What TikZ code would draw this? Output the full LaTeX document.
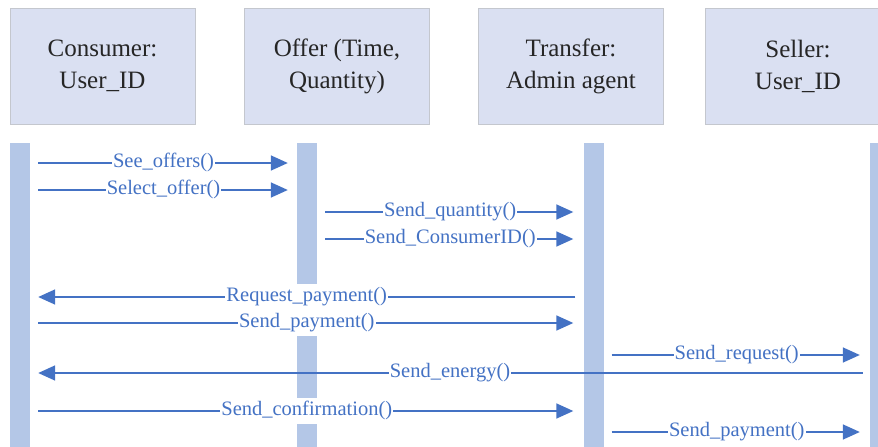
\documentclass[tikz,border=0pt]{standalone}
\usepackage{fontspec}
\setmainfont{Liberation Serif}
\usetikzlibrary{arrows.meta}

\definecolor{headfill}{RGB}{218,224,242}
\definecolor{headline}{RGB}{196,199,206}
\definecolor{barfill}{RGB}{180,199,231}
\definecolor{msgblue}{RGB}{68,114,196}
\definecolor{headtext}{RGB}{38,38,38}

\tikzset{
  head/.style={draw=headline, line width=0.8pt, fill=headfill, minimum width=185pt,
    minimum height=116pt, align=center, text=headtext,
    font=\fontsize{25}{32}\selectfont, inner sep=0pt},
  lifebar/.style={fill=barfill, draw=none, minimum width=20pt, minimum height=310pt,
    anchor=north, inner sep=0pt},
  msg/.style={draw=msgblue, line width=1.6pt, -{Triangle[length=17pt,width=15pt]}},
  lbl/.style={fill=white, text=msgblue, inner sep=0pt, inner xsep=1pt,
    text height=17pt, text depth=9pt, font=\fontsize{20.5}{22}\selectfont, midway}
}

\begin{document}
\begin{tikzpicture}[x=1pt, y=-1pt]
  \useasboundingbox (0,0) rectangle (878,447);

  % participant headers
  \node[head] (h1) at (102.5,66) {Consumer:\\User\_ID};
  \node[head] (h2) at (337,66) {Offer (Time,\\Quantity)};
  \node[head] (h3) at (571,66) {Transfer:\\Admin agent};
  \node[head] (h4) at (798,66) {Seller:\\User\_ID};

  % activation bars
  \node[lifebar] (b1) at (20,143) {};
  \node[lifebar] (b2) at (307,143) {};
  \node[lifebar] (b3) at (593.5,143) {};
  \node[lifebar] (b4) at (880,143) {};

  % messages
  \draw[msg, shorten <=8pt, shorten >=9pt] (b1.east |- 0,163) -- node[lbl] {See\_offers()} (b2.west |- 0,163);
  \draw[msg, shorten <=8pt, shorten >=9pt] (b1.east |- 0,190) -- node[lbl] {Select\_offer()} (b2.west |- 0,190);
  \draw[msg, shorten <=8pt, shorten >=10pt] (b2.east |- 0,212) -- node[lbl] {Send\_quantity()} (b3.west |- 0,212);
  \draw[msg, shorten <=8pt, shorten >=10pt] (b2.east |- 0,239) -- node[lbl] {Send\_ConsumerID()} (b3.west |- 0,239);
  \draw[msg, shorten <=8pt, shorten >=8pt] (b3.west |- 0,297) -- node[lbl] {Request\_payment()} (b1.east |- 0,297);
  \draw[msg, shorten <=8pt, shorten >=10pt] (b1.east |- 0,323) -- node[lbl] {Send\_payment()} (b3.west |- 0,323);
  \draw[msg, shorten <=8pt, shorten >=10pt] (b3.east |- 0,355) -- node[lbl] {Send\_request()} (b4.west |- 0,355);
  \draw[msg, shorten <=7pt, shorten >=8pt] (b4.west |- 0,373) -- node[lbl] {Send\_energy()} (b1.east |- 0,373);
  \draw[msg, shorten <=8pt, shorten >=10pt] (b1.east |- 0,411) -- node[lbl] {Send\_confirmation()} (b3.west |- 0,411);
  \draw[msg, shorten <=8pt, shorten >=10pt] (b3.east |- 0,432) -- node[lbl] {Send\_payment()} (b4.west |- 0,432);
\end{tikzpicture}
\end{document}
